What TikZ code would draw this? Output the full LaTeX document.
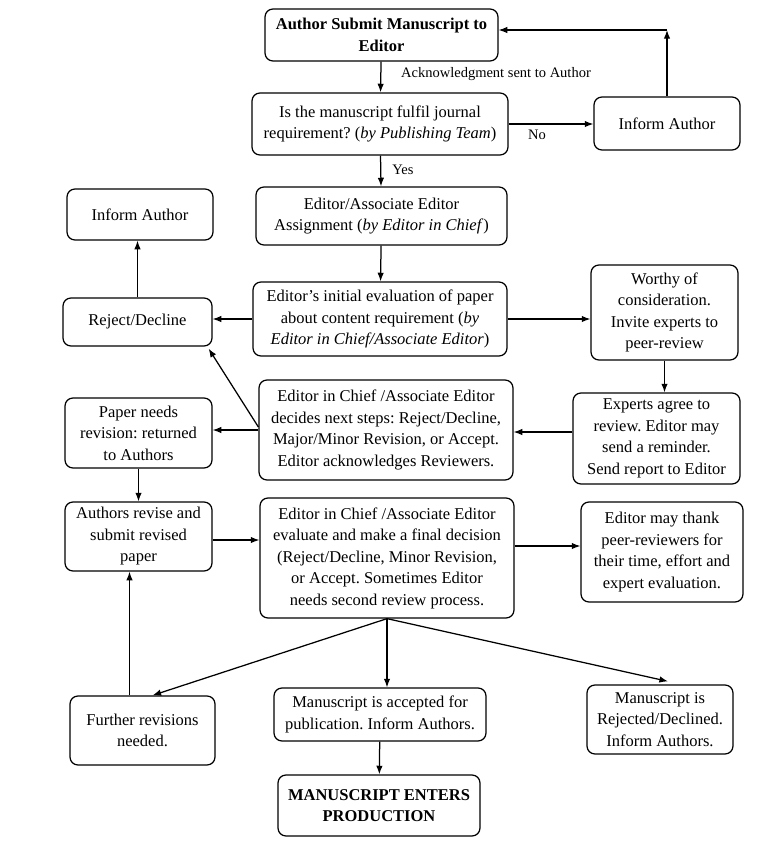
\documentclass[tikz,border=0pt]{standalone}
\usepackage{fontspec}
\setmainfont{Liberation Serif}
\usepackage{tikz}
\usetikzlibrary{arrows.meta}
\frenchspacing

\begin{document}
\begin{tikzpicture}[>=Latex,x=1pt,y=-1pt,line width=1.25pt,every node/.style={font=\fontsize{16.5}{21.5}\selectfont},
  box/.style={draw,rounded corners=8pt,align=center,inner sep=0pt},lbl/.style={font=\fontsize{14.5}{17}\selectfont}]
\useasboundingbox (0,0) rectangle (770,841);
% top row
\node[box,minimum width=233pt,minimum height=52pt] (sub) at (381.5,35) {\textbf{Author Submit Manuscript to}\\\textbf{Editor}};
\node[box,minimum width=256pt,minimum height=62pt] (req) at (380,124) {Is the manuscript fulfil journal\\requirement? (\textit{by Publishing Team})};
\node[box,minimum width=146pt,minimum height=53pt] (infR) at (667,123.5) {Inform Author};
\node[box,minimum width=251pt,minimum height=58pt] (asg) at (381.5,216) {Editor/Associate Editor\\Assignment (\textit{by Editor in Chief})};
\node[box,minimum width=146pt,minimum height=51pt] (infL) at (140,214.5) {Inform Author};
% evaluation row
\node[box,minimum width=149pt,minimum height=48pt] (rej) at (137.5,322) {Reject/Decline};
\node[box,minimum width=254pt,minimum height=74pt] (eval) at (380,319) {Editor’s initial evaluation of paper\\about content requirement (\textit{by}\\\textit{Editor in Chief/Associate Editor})};
\node[box,minimum width=147pt,minimum height=95pt] (worthy) at (664.5,312.5) {Worthy of\\consideration.\\Invite experts to\\peer-review};
% review row
\node[box,minimum width=167pt,minimum height=91pt] (experts) at (656.5,438.5) {Experts agree to\\review. Editor may\\send a reminder.\\Send report to Editor};
\node[box,minimum width=254pt,minimum height=100pt] (decide) at (386,430) {Editor in Chief /Associate Editor\\decides next steps: Reject/Decline,\\Major/Minor Revision, or Accept.\\Editor acknowledges Reviewers.};
\node[box,minimum width=147pt,minimum height=70pt] (paper) at (138.5,433) {Paper needs\\revision: returned\\to Authors};
% revision row
\node[box,minimum width=147pt,minimum height=69pt] (revise) at (138.5,536.5) {Authors revise and\\submit revised\\paper};
\node[box,minimum width=254pt,minimum height=120pt] (final) at (387,558) {Editor in Chief /Associate Editor\\evaluate and make a final decision\\(Reject/Decline, Minor Revision,\\or Accept. Sometimes Editor\\needs second review process.};
\node[box,minimum width=162pt,minimum height=100pt] (thank) at (662,552) {Editor may thank\\peer-reviewers for\\their time, effort and\\expert evaluation.};
% outcomes
\node[box,minimum width=145pt,minimum height=69pt] (further) at (142.5,730.5) {Further revisions\\needed.};
\node[box,minimum width=212pt,minimum height=53pt] (accept) at (380,714.5) {Manuscript is accepted for\\publication. Inform Authors.};
\node[box,minimum width=146pt,minimum height=69pt] (rjd) at (660,719.5) {Manuscript is\\Rejected/Declined.\\Inform Authors.};
\node[box,minimum width=202pt,minimum height=61pt] (prod) at (379,805.5) {\textbf{MANUSCRIPT ENTERS}\\\textbf{PRODUCTION}};
% labels
\node[lbl] (ack) at (496,74) {Acknowledgment sent to Author};
\node[lbl] (no) at (537,135) {No};\node[lbl] (yes) at (403,170) {Yes};
% connectors
\draw[->] (sub) -- (req);\draw[->] (req) -- (asg);\draw[->] (asg) -- (eval);
\draw[->] (req.east) -- (req.east -| infR.west);
\coordinate (ret) at ([yshift=5pt]sub.east -| infR.north);
\draw[->] (infR.north) -- (ret);\draw[->] (ret) -- (ret -| sub.east);
\draw[->] (eval.west) -- (eval.west -| rej.east);\draw[->] (eval.east) -- (eval.east -| worthy.west);
\draw[->] (rej.north) -- (rej.north |- infL.south);
\draw[->] (worthy.south) -- (worthy.south |- experts.north);
\draw[->] ([yshift=-2pt]experts.west |- decide.east) -- ([yshift=-2pt]decide.east);
\draw[->] (decide.west) -- (decide.west -| paper.east);
\draw[->] ([yshift=3pt]decide.west) -- ([xshift=-4pt,yshift=-2pt]rej.south east);
\draw[->] (paper) -- (revise);
\draw[->] ([yshift=-3.5pt]revise.east) -- ([yshift=-3.5pt]revise.east -| final.west);
\draw[->] ([yshift=6pt]thank.west -| final.east) -- ([yshift=6pt]thank.west);
\coordinate (fan) at (final.south);
\draw[->] (fan) -- ([xshift=10pt]further.north);
\draw[->] (fan) -- (fan |- accept.north);
\draw[->] (fan) -- ([xshift=8pt,yshift=3pt]rjd.north);
\draw[->] ([xshift=-13pt]further.north) -- ([xshift=-13pt]further.north |- revise.south);
\draw[->] (accept) -- (prod);
\end{tikzpicture}
\end{document}
